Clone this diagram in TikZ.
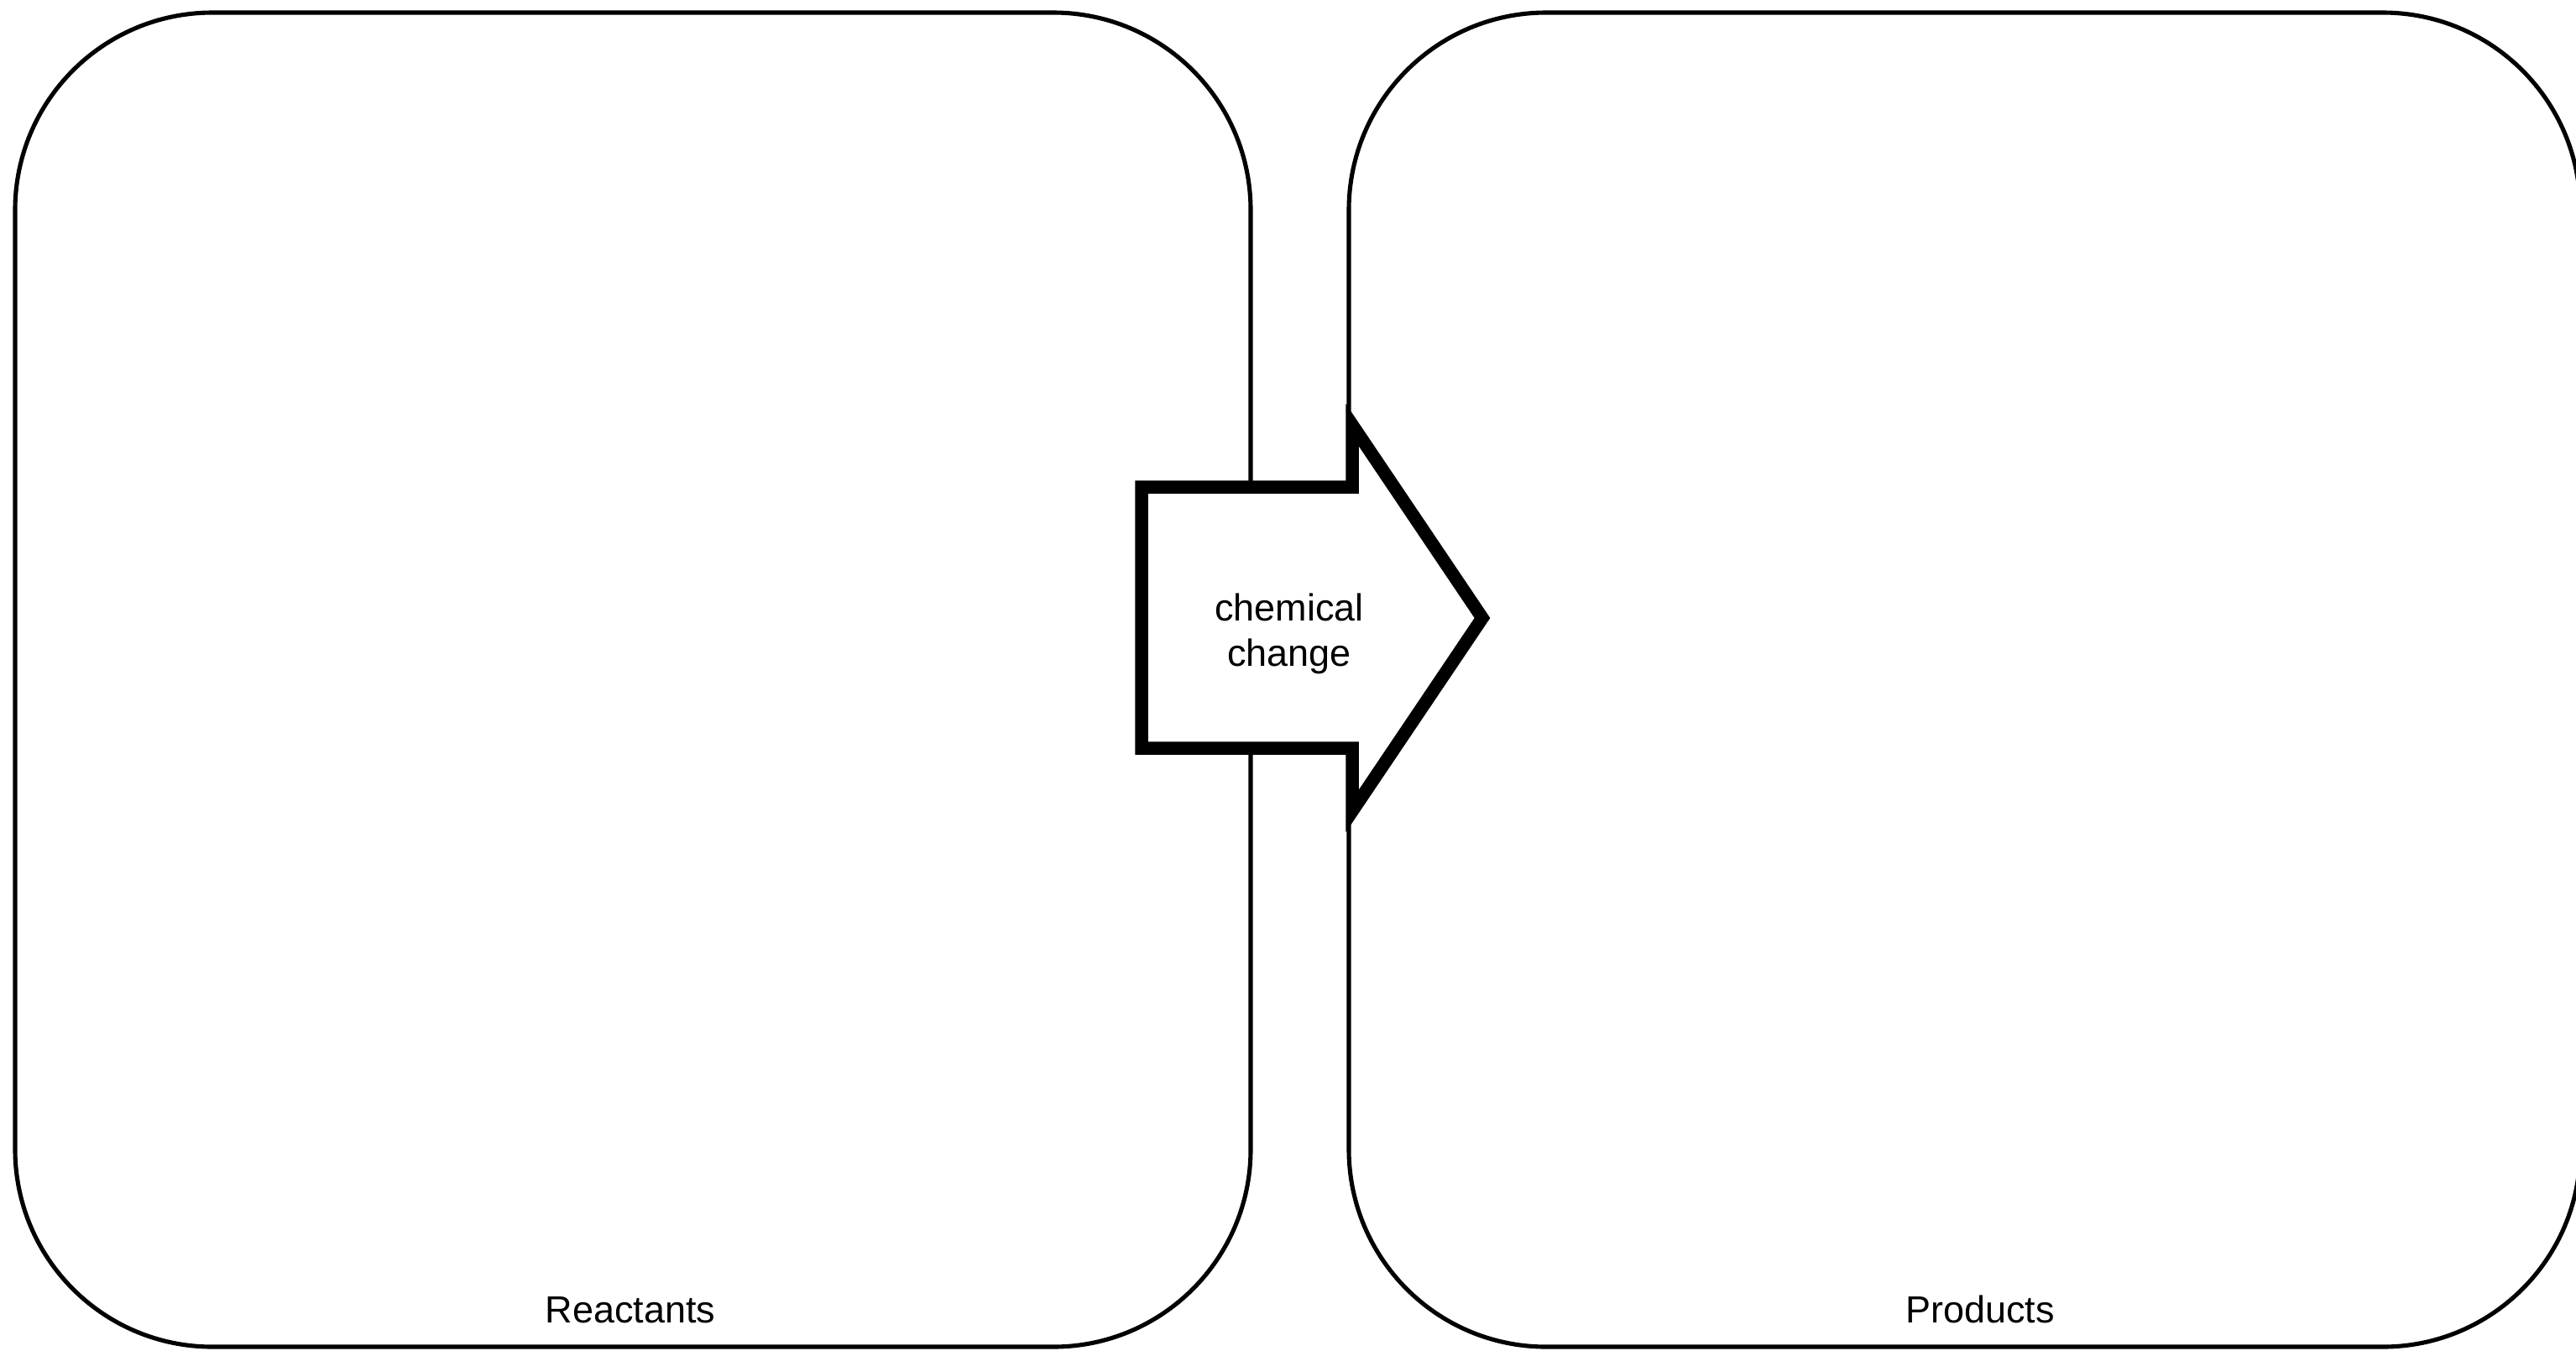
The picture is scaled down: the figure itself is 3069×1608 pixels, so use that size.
\documentclass[tikz,border=0pt]{standalone}
\usepackage{fontspec}
\setmainfont{Liberation Sans}
\tikzset{
  panel/.style={draw=black, line width=1.45pt, rounded corners=2.35cm},
  bigarrow/.style={draw=black, fill=white, line width=4.4pt, line join=miter},
  lbl/.style={font=\fontsize{12.8}{15.3}\selectfont, inner sep=0pt}
}
\begin{document}
\begin{tikzpicture}[x=0.01cm,y=-0.01cm]
				\useasboundingbox (0,0) rectangle (3069,1608);
				% the two panels
				\draw[panel] (18,15) rectangle (1490,1604);
				\draw[panel] (1607,15) rectangle (3074,1604);
				\node[lbl, anchor=base] (reactants) at (751,1575) {Reactants};
				\node[lbl, anchor=base] (products) at (2359,1575) {Products};
				% arrow between them
				\draw[bigarrow] (1360,580) -- (1611,580) -- (1611,506) -- (1766,736)
					-- (1611,966) -- (1611,891) -- (1360,891) -- cycle;
				\node[lbl, align=center] (change) at (1536,755) {chemical\\change};
			\end{tikzpicture}
\end{document}
